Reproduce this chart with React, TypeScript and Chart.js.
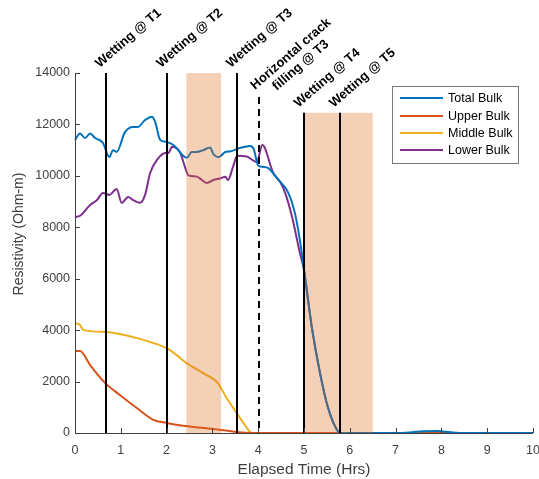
import React, { useEffect, useRef } from "react";
import { Chart, registerables } from "chart.js";

Chart.register(...registerables);

// ---------- Data ----------
const totalT = [0, 0.11, 0.22, 0.33, 0.44, 0.61, 0.75, 0.83, 0.91, 1.09, 1.27, 1.37, 1.53, 1.68, 1.75, 1.86, 2.0, 2.15, 2.44, 2.55, 2.66, 2.8, 2.95, 3.02, 3.14, 3.28, 3.38, 3.6, 3.82, 3.9, 4.0, 4.1, 4.22, 4.44, 4.65, 4.8, 4.91, 5.0, 5.17, 5.35, 5.52, 5.75, 5.8, 7.0, 7.3, 7.6, 7.9, 8.2, 8.5, 10];
const totalV = [11400, 11650, 11470, 11650, 11470, 11280, 10730, 11000, 10930, 11700, 11900, 11900, 12170, 12300, 12100, 11400, 11320, 11200, 10700, 10930, 10930, 11000, 11100, 10850, 10730, 10930, 10950, 11080, 11160, 11050, 10400, 10350, 10300, 9840, 9370, 8560, 7500, 6340, 4120, 2330, 1010, 40, 0, 0, 20, 70, 80, 30, 0, 0];

const upperT = [0, 0.11, 0.33, 0.66, 0.98, 1.35, 1.71, 2.0, 2.4, 3.02, 3.53, 3.86, 10];
const upperV = [3190, 3190, 2640, 1940, 1480, 970, 510, 390, 270, 160, 40, 0, 0];

const middleT = [0, 0.11, 0.18, 0.66, 0.98, 1.35, 1.64, 2.0, 2.22, 2.4, 2.8, 3.12, 3.31, 3.53, 3.71, 3.86, 10];
const middleV = [4280, 4200, 4010, 3930, 3850, 3690, 3540, 3300, 3030, 2760, 2330, 1940, 1360, 780, 310, 0, 0];

const lowerT = [0, 0.11, 0.33, 0.48, 0.61, 0.75, 0.91, 1.02, 1.16, 1.27, 1.42, 1.53, 1.64, 1.79, 1.97, 2.04, 2.12, 2.29, 2.4, 2.47, 2.66, 2.77, 2.88, 3.02, 3.17, 3.28, 3.34, 3.45, 3.54, 3.75, 3.97, 4.09, 4.33, 4.48, 4.59, 4.74, 4.91, 5.0, 5.17, 5.35, 5.52, 5.75, 5.8, 10];
const lowerV = [8400, 8450, 8870, 9060, 9330, 9260, 9490, 8950, 9180, 9060, 8950, 9260, 10110, 10620, 10890, 10890, 11130, 10930, 10350, 10030, 9970, 9840, 9720, 9840, 9900, 9970, 9840, 10350, 10780, 10750, 10540, 11200, 10110, 9760, 9330, 8400, 7000, 6340, 4120, 2330, 1010, 40, 0, 0];

const seriesNames = ["Total Bulk", "Upper Bulk", "Middle Bulk", "Lower Bulk"];
const seriesColors = ["#0072BD", "#D95319", "#EDB120", "#7E2F8E"];

const eventTimes = [0.67, 2.01, 3.53, 4.02, 5.01, 5.78];
const eventTops = [14000, 14000, 14000, 13070, 12450, 12450];
const eventDashed = [false, false, false, true, false, false];
const eventLabels = [
  ["Wetting @ T1"],
  ["Wetting @ T2"],
  ["Wetting @ T3"],
  ["Horizontal crack", "filling @ T3"],
  ["Wetting @ T4"],
  ["Wetting @ T5"],
];

const bandStarts = [2.43, 5.01];
const bandEnds = [3.19, 6.5];
const bandTops = [14000, 12450];

const xTicks = [0, 1, 2, 3, 4, 5, 6, 7, 8, 9, 10];
const yTicks = [0, 2000, 4000, 6000, 8000, 10000, 12000, 14000];
const yTitle = "Resistivity (Ohm-m)";
const xTitle = "Elapsed Time (Hrs)";

const AXIS_COLOR = "#404040";
const SANS = "'Liberation Sans', Arial, sans-serif";

const pts = (t: number[], v: number[]) => t.map((x, i) => ({ x, y: v[i] }));

const overlayPlugin = {
  id: "overlay",
  afterDatasetsDraw(chart: any) {
    const { ctx, scales } = chart;
    const xs = scales.x;
    const ys = scales.y;
    ctx.save();
    bandStarts.forEach((s, i) => {
      const x0 = xs.getPixelForValue(s);
      const x1 = xs.getPixelForValue(bandEnds[i]);
      const y0 = ys.getPixelForValue(bandTops[i]);
      const y1 = ys.getPixelForValue(0);
      ctx.fillStyle = "rgba(222, 110, 30, 0.32)";
      ctx.fillRect(x0, y0, x1 - x0, y1 - y0);
    });
    eventTimes.forEach((t, i) => {
      const x = Math.round(xs.getPixelForValue(t));
      const yTop = ys.getPixelForValue(eventTops[i]);
      const yBot = ys.getPixelForValue(0);
      ctx.beginPath();
      ctx.strokeStyle = "#000";
      ctx.lineWidth = 2;
      ctx.setLineDash(eventDashed[i] ? [7, 5] : []);
      ctx.moveTo(x, yTop);
      ctx.lineTo(x, yBot);
      ctx.stroke();
    });
    ctx.setLineDash([]);
    ctx.restore();
  },
  afterDraw(chart: any) {
    const { ctx, scales, chartArea } = chart;
    const xs = scales.x;
    const ys = scales.y;
    ctx.save();
    ctx.strokeStyle = AXIS_COLOR;
    ctx.lineWidth = 1;
    ctx.beginPath();
    ctx.moveTo(chartArea.left + 0.5, chartArea.top);
    ctx.lineTo(chartArea.left + 0.5, chartArea.bottom + 0.5);
    ctx.lineTo(chartArea.right, chartArea.bottom + 0.5);
    ctx.stroke();
    ctx.beginPath();
    xTicks.forEach((v) => {
      const x = Math.round(xs.getPixelForValue(v)) + 0.5;
      ctx.moveTo(x, chartArea.bottom);
      ctx.lineTo(x, chartArea.bottom - 5);
    });
    yTicks.forEach((v) => {
      const y = Math.round(ys.getPixelForValue(v)) + 0.5;
      ctx.moveTo(chartArea.left, y);
      ctx.lineTo(chartArea.left + 5, y);
    });
    ctx.stroke();

    // y-axis title (slightly above centre, as in the original)
    ctx.save();
    ctx.fillStyle = AXIS_COLOR;
    ctx.font = `14px ${SANS}`;
    ctx.textAlign = "center";
    ctx.textBaseline = "middle";
    ctx.translate(19, 234);
    ctx.rotate(-Math.PI / 2);
    ctx.fillText(yTitle, 0, 0);
    ctx.restore();

    const ang = (-41 * Math.PI) / 180;
    ctx.fillStyle = "#000";
    ctx.font = `bold 13px ${SANS}`;
    ctx.textBaseline = "alphabetic";
    eventTimes.forEach((t, i) => {
      const x = xs.getPixelForValue(t);
      const yTop = ys.getPixelForValue(eventTops[i]);
      const lines = eventLabels[i];
      ctx.save();
      if (lines.length === 1) {
        ctx.translate(x - 6, yTop - 5);
        ctx.rotate(ang);
        ctx.textAlign = "left";
        ctx.fillText(lines[0], 0, 0);
      } else {
        ctx.translate(x - 4, yTop - 7);
        ctx.rotate(ang);
        const w0 = ctx.measureText(lines[0]).width;
        ctx.textAlign = "center";
        lines.forEach((ln, j) => {
          ctx.fillText(ln, w0 / 2, j * 15);
        });
      }
      ctx.restore();
    });

    const lx = 392.5, ly = 86.5, lw = 126, lh = 77;
    ctx.fillStyle = "#fff";
    ctx.fillRect(lx, ly, lw, lh);
    ctx.strokeStyle = "#7a7a7a";
    ctx.lineWidth = 1;
    ctx.strokeRect(lx, ly, lw, lh);
    ctx.font = `12.5px ${SANS}`;
    ctx.textAlign = "left";
    ctx.textBaseline = "middle";
    const rows = [98, 116, 133, 150];
    seriesNames.forEach((name, i) => {
      ctx.beginPath();
      ctx.strokeStyle = seriesColors[i];
      ctx.lineWidth = 2;
      ctx.moveTo(400, rows[i]);
      ctx.lineTo(443, rows[i]);
      ctx.stroke();
      ctx.fillStyle = "#000";
      ctx.fillText(name, 448, rows[i] + 0.5);
    });
    ctx.restore();
  },
};

export default function App() {
  const ref = useRef<HTMLCanvasElement | null>(null);

  useEffect(() => {
    if (!ref.current) return;
    const mk = (i: number, t: number[], v: number[]) => ({
      label: seriesNames[i],
      data: pts(t, v),
      borderColor: seriesColors[i],
      backgroundColor: seriesColors[i],
      borderWidth: 2,
      pointRadius: 0,
      cubicInterpolationMode: "monotone" as const,
      clip: false as any,
      fill: false,
    });
    const chart = new Chart(ref.current, {
      type: "line",
      data: {
        datasets: [
          mk(0, totalT, totalV),
          mk(1, upperT, upperV),
          mk(2, middleT, middleV),
          mk(3, lowerT, lowerV),
        ],
      },
      options: {
        animation: false,
        responsive: false,
        devicePixelRatio: 1,
        layout: { padding: { top: 73, right: 6, left: 0, bottom: 0 } },
        plugins: {
          legend: { display: false },
          tooltip: { enabled: false },
        },
        scales: {
          x: {
            type: "linear",
            min: 0,
            max: 10,
            afterFit: (s: any) => {
              s.height = 46;
              s.paddingLeft = 0;
              s.paddingRight = 0;
            },
            afterBuildTicks: (s: any) => {
              s.ticks = xTicks.map((v) => ({ value: v }));
            },
            grid: { display: false, drawTicks: false, tickLength: 0 },
            border: { display: false },
            ticks: {
              color: AXIS_COLOR,
              font: { family: SANS, size: 12.5 },
              padding: 10,
              maxRotation: 0,
              autoSkip: false,
            },
            title: {
              display: true,
              text: xTitle,
              color: AXIS_COLOR,
              font: { family: SANS, size: 15.5 },
              padding: { top: 0, bottom: 0 },
            },
          },
          y: {
            type: "linear",
            min: 0,
            max: 14000,
            afterFit: (s: any) => {
              s.width = 75;
              s.paddingTop = 0;
              s.paddingBottom = 0;
            },
            afterBuildTicks: (s: any) => {
              s.ticks = yTicks.map((v) => ({ value: v }));
            },
            grid: { display: false, drawTicks: false, tickLength: 0 },
            border: { display: false },
            ticks: {
              color: AXIS_COLOR,
              font: { family: SANS, size: 12.5 },
              padding: 5,
              autoSkip: false,
              callback: (v: any) => String(v),
            },
            title: { display: false },
          },
        },
      },
      plugins: [overlayPlugin],
    });
    return () => chart.destroy();
  }, []);

  return (
    <div style={{ position: "absolute", left: 0, top: 0, width: 539, height: 479, background: "#fff" }}>
      <canvas ref={ref} width={539} height={479} style={{ width: 539, height: 479 }} />
    </div>
  );
}
